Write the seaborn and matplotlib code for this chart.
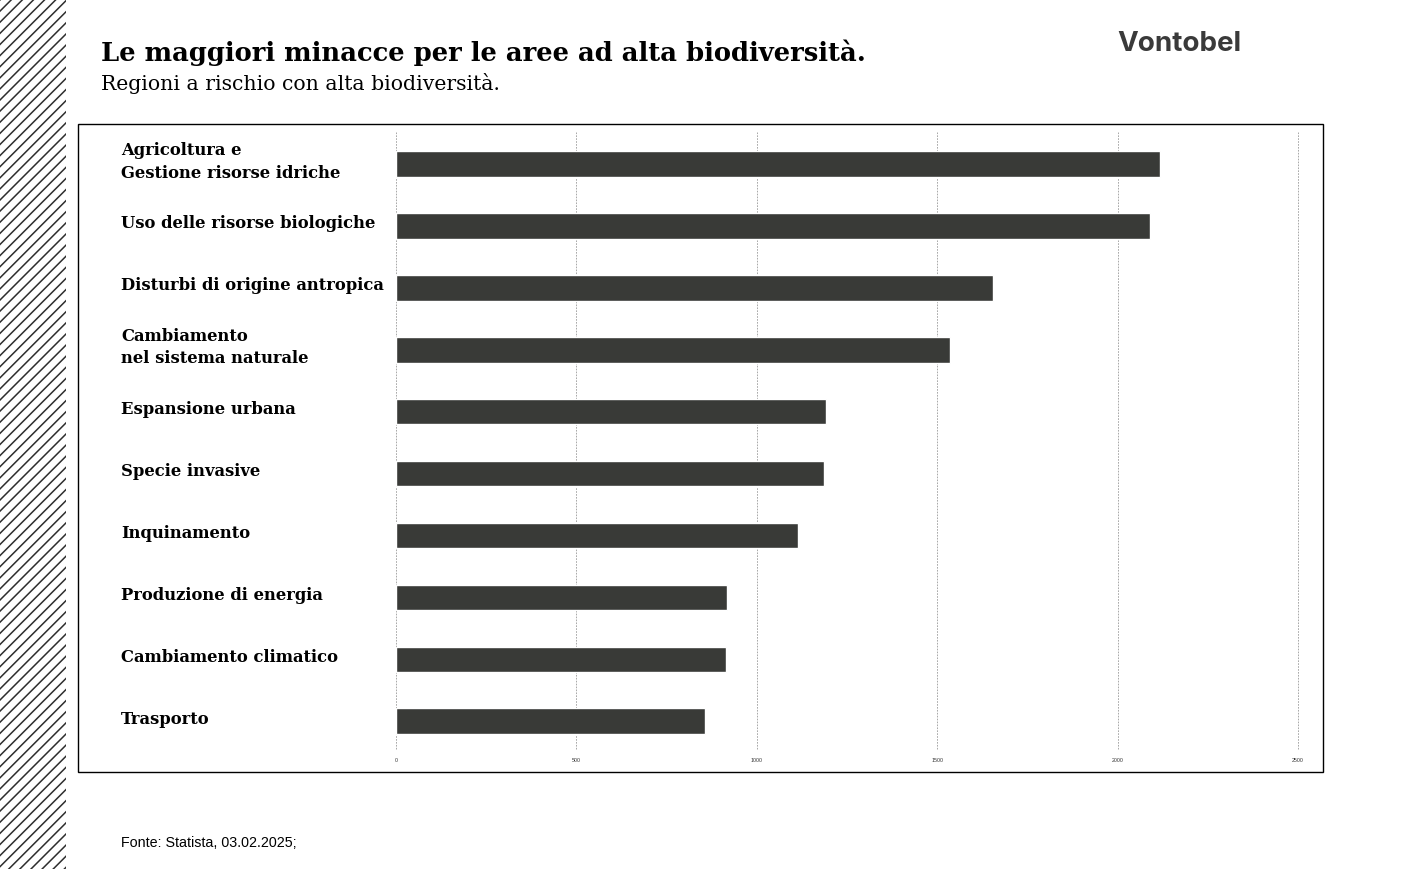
import numpy as np
import pandas as pd
import matplotlib.pyplot as plt
import seaborn as sns
from matplotlib.patches import Rectangle

# dati
categorie = ['Agricoltura e\nGestione risorse idriche', 'Uso delle risorse biologiche',
             'Disturbi di origine antropica', 'Cambiamento\nnel sistema naturale',
             'Espansione urbana', 'Specie invasive', 'Inquinamento',
             'Produzione di energia', 'Cambiamento climatico', 'Trasporto']
valori = [2117, 2091, 1654, 1535, 1192, 1186, 1114, 917, 914, 856]
tick_x = [0, 500, 1000, 1500, 2000, 2500]

df = pd.DataFrame({'categoria': categorie, 'valore': valori})

sns.set_style("white")
serif = ['DejaVu Serif']
sans = ['Liberation Sans', 'DejaVu Sans']

fig = plt.figure(figsize=(14.12, 8.7), dpi=100)

# striscia tratteggiata a sinistra
plt.rcParams['hatch.linewidth'] = 1.1
plt.rcParams['hatch.color'] = '#2e2e2e'
fig.patches.append(Rectangle((0, 0), 66/1412, 1, transform=fig.transFigure,
                             facecolor='white', edgecolor='#2e2e2e', hatch='///', lw=0))

# riquadro del grafico
fig.patches.append(Rectangle((78/1412, 1-773/870), (1323-78)/1412, (773-125)/870,
                             transform=fig.transFigure, fill=False, edgecolor='black', lw=1))

ax = fig.add_axes([396/1412, 1-750/870, (1298-396)/1412, (750-133)/870])
sns.barplot(data=df, x='valore', y='categoria', orient='h', color='#393a37',
            width=0.41, saturation=1, ax=ax, zorder=3)

ax.set_xlim(0, 2500)
ax.set_ylim(9.45, -0.52)
ax.set_xticks(tick_x)
ax.set_xticklabels([str(t) for t in tick_x], fontsize=3.8, family=sans, color='#333333')
ax.tick_params(axis='x', length=0, pad=6)
ax.set_yticks([])
ax.set_xlabel('')
ax.set_ylabel('')
ax.patch.set_alpha(0)
for s in ax.spines.values():
    s.set_visible(False)
for t in tick_x:
    ax.axvline(t, color='#9a9a9a', ls=(0, (2, 1.5)), lw=0.6, zorder=1, clip_on=False)

# etichette delle categorie
for i, lab in enumerate(categorie):
    ax.text(-0.305, i - 0.05, lab, transform=ax.get_yaxis_transform(), ha='left', va='center',
            fontsize=11.8, fontweight='bold', family=serif, color='black', linespacing=1.4)

# titoli
fig.text(101/1412, 1-53/870, 'Le maggiori minacce per le aree ad alta biodiversità.',
         fontsize=18.6, fontweight='bold', family=serif, va='center', ha='left', color='black')
fig.text(101/1412, 1-83/870, 'Regioni a rischio con alta biodiversità.',
         fontsize=14.7, family=serif, va='center', ha='left', color='black')
fig.text(1241/1412, 1-44/870, 'Vontobel', fontsize=20, fontweight='bold',
         family=['Inter', 'DejaVu Sans'], color='#3a3a3a', va='center', ha='right')
fig.text(121/1412, 1-843/870, 'Fonte: Statista, 03.02.2025;', fontsize=10.3,
         family=sans, va='center', ha='left', color='black')

plt.savefig('out.png', dpi=100)
